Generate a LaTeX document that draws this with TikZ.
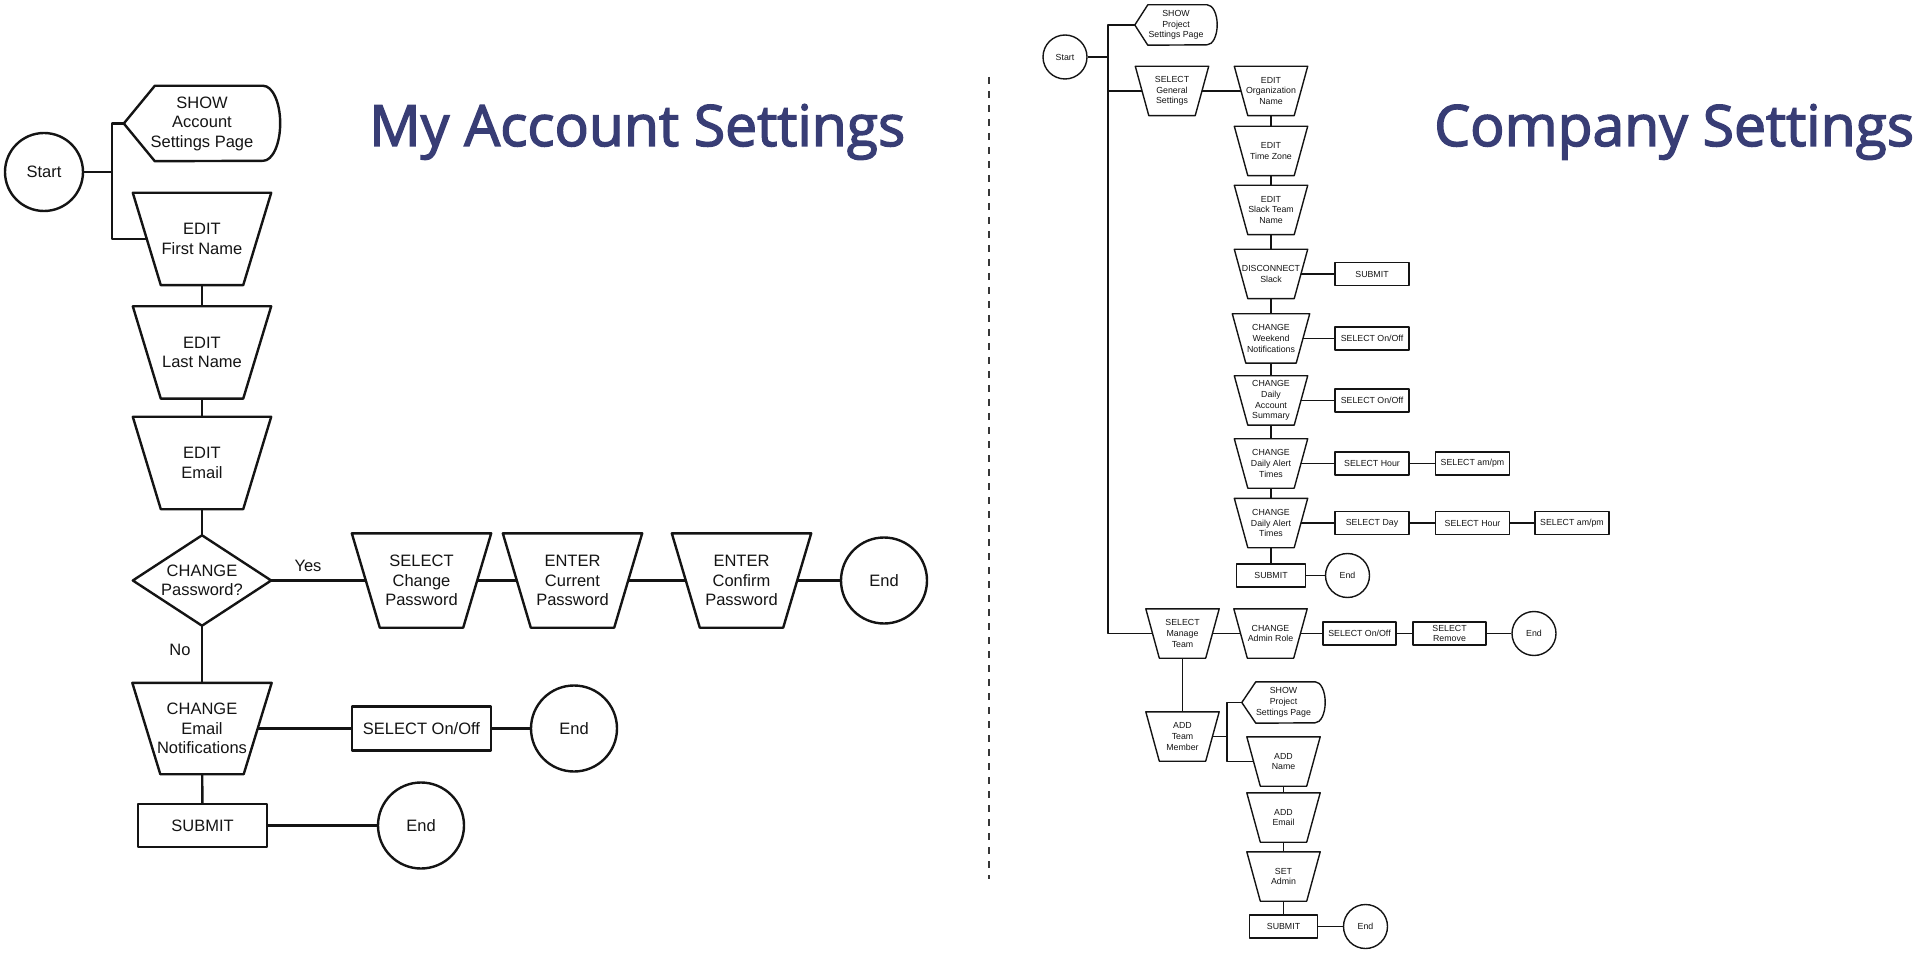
\documentclass[tikz,border=0pt]{standalone}
\usepackage{fontspec}
\setmainfont{Liberation Sans}
\newfontfamily\titlefont{Open Sans}[FakeBold=2.5]
\definecolor{titleblue}{RGB}{56,61,117}
\definecolor{ink}{RGB}{20,20,20}
% outline of an inverted trapezoid around a node: style, half inset, node name
\newcommand\trapout[3]{\draw[#1] ([xshift=-#2]#3.north west) -- ([xshift=#2]#3.north east) -- ([xshift=-#2]#3.south east) -- ([xshift=#2]#3.south west) -- cycle;}
\begin{document}
\begin{tikzpicture}[x=1pt,y=-1pt,
  L/.style={draw=ink, line width=2.4pt, line join=round},
  R/.style={draw=ink, line width=1.4pt, line join=round},
  lfont/.style={font=\fontsize{16.5}{19.5}\selectfont, align=center, text=ink},
  rfont/.style={font=\fontsize{8.8}{10.8}\selectfont, align=center, text=ink},
  ltx/.style={lfont, inner sep=0pt},
  ltrap/.style={rectangle, inner sep=0pt, lfont, minimum width=110pt, minimum height=92pt},
  rtrap/.style={rectangle, inner sep=0pt, rfont, minimum width=59.5pt, minimum height=49pt},
  lbox/.style={L, rectangle, inner sep=0pt, lfont},
  rbox/.style={R, rectangle, inner sep=0pt, rfont, minimum width=74pt, minimum height=23pt},
  lcirc/.style={L, circle, inner sep=0pt, minimum size=86pt, lfont},
  rcirc/.style={R, circle, inner sep=0pt, minimum size=44pt, rfont},
  ldiam/.style={rectangle, inner sep=0pt, lfont, minimum width=138pt, minimum height=90pt},
  disptext/.style={rectangle, inner sep=0pt},
  title/.style={font=\titlefont\fontsize{57}{60}\selectfont, text=titleblue, inner sep=0pt, anchor=base west}
]
\useasboundingbox (0,0) rectangle (1920,957);

% ---------- titles ----------
\node[title] (t1) at (369,146) {My Account Settings};
\node[title] (t2) at (1434,146) {Company Settings};

% ---------- divider ----------
\draw[line width=2pt, draw=ink!85, dash pattern=on 7pt off 7pt] (989,77) -- (989,879);

% ================= LEFT: My Account Settings =================
\node[lcirc, minimum size=78pt] (start) at (44,172) {Start};

\node[disptext, lfont, minimum width=156pt, minimum height=75pt] (showA) at (202,123.5) {SHOW\\Account\\Settings Page};
\draw[L] (showA.west) -- ([xshift=31pt]showA.north west) -- ([xshift=-17pt]showA.north east)
  arc[start angle=90, end angle=-90, x radius=17pt, y radius=37.5pt]
  -- ([xshift=31pt]showA.south west) -- cycle;

\node[ltrap] (fn) at (202,239) {EDIT\\First Name};
\node[ltrap] (ln) at (202,352.5) {EDIT\\Last Name};
\node[ltrap] (em) at (202,463) {EDIT\\Email};
\node[ldiam] (dia) at (202,580.5) {CHANGE\\Password?};
\draw[L] (dia.west) -- (dia.north) -- (dia.east) -- (dia.south) -- cycle;
\node[ltrap, minimum width=111pt, minimum height=94pt] (scp) at (421.5,580.5) {SELECT\\Change\\Password};
\node[ltrap, minimum width=111pt, minimum height=94pt] (ecp) at (572.5,580.5) {ENTER\\Current\\Password};
\node[ltrap, minimum width=111pt, minimum height=94pt] (ecf) at (741.5,580.5) {ENTER\\Confirm\\Password};
\node[lcirc] (end1) at (884,580.5) {End};

\node[ltrap, minimum width=111pt, minimum height=91pt] (cen) at (202,728.5) {CHANGE\\Email\\Notifications};
\node[lbox, minimum width=139pt, minimum height=44pt] (sel) at (421.5,728.5) {SELECT On/Off};
\node[lcirc] (end2) at (574,728.5) {End};

\node[lbox, minimum width=129pt, minimum height=43pt] (sub) at (202.5,825.5) {SUBMIT};
\node[lcirc] (end3) at (421,825.5) {End};

\foreach \n in {fn,ln,em,scp,ecp,ecf,cen} {\trapout{L}{14pt}{\n}}

\node[ltx] (yes) at (308,566) {Yes};
\node[ltx] (no) at (180,650) {No};

\coordinate (lj1) at (112,123.5);
\coordinate (lj2) at (112,239);
\draw[L] (start) -- (start -| lj1);
\draw[L] (showA.west) -- (lj1) -- (lj2) -- (fn);
\draw[L] (fn) -- (ln);
\draw[L] (ln) -- (em);
\draw[L] (em) -- (dia);
\draw[L] (dia) -- (scp);
\draw[L] (scp) -- (ecp);
\draw[L] (ecp) -- (ecf);
\draw[L] (ecf) -- (end1);
\draw[L] (dia) -- (cen);
\draw[L] (cen) -- (sel);
\draw[L] (sel) -- (end2);
\draw[L] (cen) -- (sub);
\draw[L] (sub) -- (end3);

% ================= RIGHT: Company Settings =================
\node[rcirc] (start2) at (1065,57) {Start};

\node[disptext, rfont, minimum width=82pt, minimum height=40pt] (showP) at (1176,25) {SHOW\\Project\\Settings Page};
\draw[R] (showP.west) -- ([xshift=13pt]showP.north west) -- ([xshift=-10pt]showP.north east)
  arc[start angle=90, end angle=-90, x radius=10pt, y radius=20pt]
  -- ([xshift=13pt]showP.south west) -- cycle;

\node[rtrap] (sgs) at (1172,91) {SELECT\\General\\Settings};
\node[rtrap] (eon) at (1271,91) {EDIT\\Organization\\Name};
\node[rtrap] (etz) at (1271,151) {EDIT\\Time Zone};
\node[rtrap] (est) at (1271,210) {EDIT\\Slack Team\\Name};
\node[rtrap] (dsl) at (1271,274) {DISCONNECT\\Slack};
\node[rbox] (sub1) at (1372,274) {SUBMIT};
\node[rtrap, minimum width=63.5pt] (cwn) at (1271,338.5) {CHANGE\\Weekend\\Notifications};
\node[rbox] (so1) at (1372,338.5) {SELECT On/Off};
\node[rtrap] (cdas) at (1271,400.5) {CHANGE\\Daily\\Account\\Summary};
\node[rbox] (so2) at (1372,400.5) {SELECT On/Off};
\node[rtrap] (cda1) at (1271,463.5) {CHANGE\\Daily Alert\\Times};
\node[rbox] (sh1) at (1372,463.5) {SELECT Hour};
\node[rbox] (sap1) at (1472.5,463.5) {SELECT am/pm};
\node[rtrap] (cda2) at (1271,523) {CHANGE\\Daily Alert\\Times};
\node[rbox] (sd) at (1372,523) {SELECT Day};
\node[rbox] (sh2) at (1472.5,523) {SELECT Hour};
\node[rbox] (sap2) at (1572,523) {SELECT am/pm};
\node[rbox, minimum width=69pt] (sub2) at (1271,575.5) {SUBMIT};
\node[rcirc] (end4) at (1347.5,575.5) {End};

\node[rtrap] (smt) at (1182.5,633.5) {SELECT\\Manage\\Team};
\node[rtrap] (car) at (1270.5,633.5) {CHANGE\\Admin Role};
\node[rbox, minimum width=73pt] (so3) at (1359.5,633.5) {SELECT On/Off};
\node[rbox, minimum width=73pt] (srm) at (1449.5,633.5) {SELECT\\Remove};
\node[rcirc] (end5) at (1534,633.5) {End};

\node[rtrap] (atm) at (1182.5,736.5) {ADD\\Team\\Member};
\node[disptext, rfont, minimum width=83pt, minimum height=41pt] (showP2) at (1283.5,702.5) {SHOW\\Project\\Settings Page};
\draw[R] (showP2.west) -- ([xshift=14pt]showP2.north west) -- ([xshift=-10pt]showP2.north east)
  arc[start angle=90, end angle=-90, x radius=10pt, y radius=20.5pt]
  -- ([xshift=14pt]showP2.south west) -- cycle;
\node[rtrap] (adn) at (1283.5,761.5) {ADD\\Name};
\node[rtrap] (ade) at (1283.5,817.5) {ADD\\Email};
\node[rtrap] (sad) at (1283.5,876.5) {SET\\Admin};
\node[rbox, minimum width=68pt] (sub3) at (1283.5,926.5) {SUBMIT};
\node[rcirc] (end6) at (1365.5,926.5) {End};

\foreach \n in {sgs,eon,etz,est,dsl,cwn,cdas,cda1,cda2,smt,car,atm,adn,ade,sad} {\trapout{R}{6.75pt}{\n}}

\coordinate (vtop) at (1108,25);
\coordinate (vbot) at (1108,633.5);
\draw[R] (start2) -- (start2 -| vtop);
\draw[R] (showP.west) -- (vtop) -- (vbot) -- (smt);
\draw[R] (sgs) -- (sgs -| vtop);
\draw[R] (sgs) -- (eon);
\draw[R] (eon) -- (etz);
\draw[R] (etz) -- (est);
\draw[R] (est) -- (dsl);
\draw[R] (dsl) -- (sub1);
\draw[R] (dsl) -- (cwn);
\draw[R] (cwn) -- (so1);
\draw[R] (cwn) -- (cdas);
\draw[R] (cdas) -- (so2);
\draw[R] (cdas) -- (cda1);
\draw[R] (cda1) -- (sh1);
\draw[R] (sh1) -- (sap1);
\draw[R] (cda1) -- (cda2);
\draw[R] (cda2) -- (sd);
\draw[R] (sd) -- (sh2);
\draw[R] (sh2) -- (sap2);
\draw[R] (cda2) -- (sub2);
\draw[R] (sub2) -- (end4);
\draw[R] (smt) -- (car);
\draw[R] (car) -- (so3);
\draw[R] (so3) -- (srm);
\draw[R] (srm) -- (end5);
\draw[R] (smt) -- (atm);
\coordinate (ajt) at (1227,702.5);
\coordinate (ajb) at (1227,761.5);
\draw[R] (atm) -- (atm -| ajt);
\draw[R] (showP2.west) -- (ajt) -- (ajb) -- (adn);
\draw[R] (adn) -- (ade);
\draw[R] (ade) -- (sad);
\draw[R] (sad) -- (sub3);
\draw[R] (sub3) -- (end6);
\end{tikzpicture}
\end{document}
